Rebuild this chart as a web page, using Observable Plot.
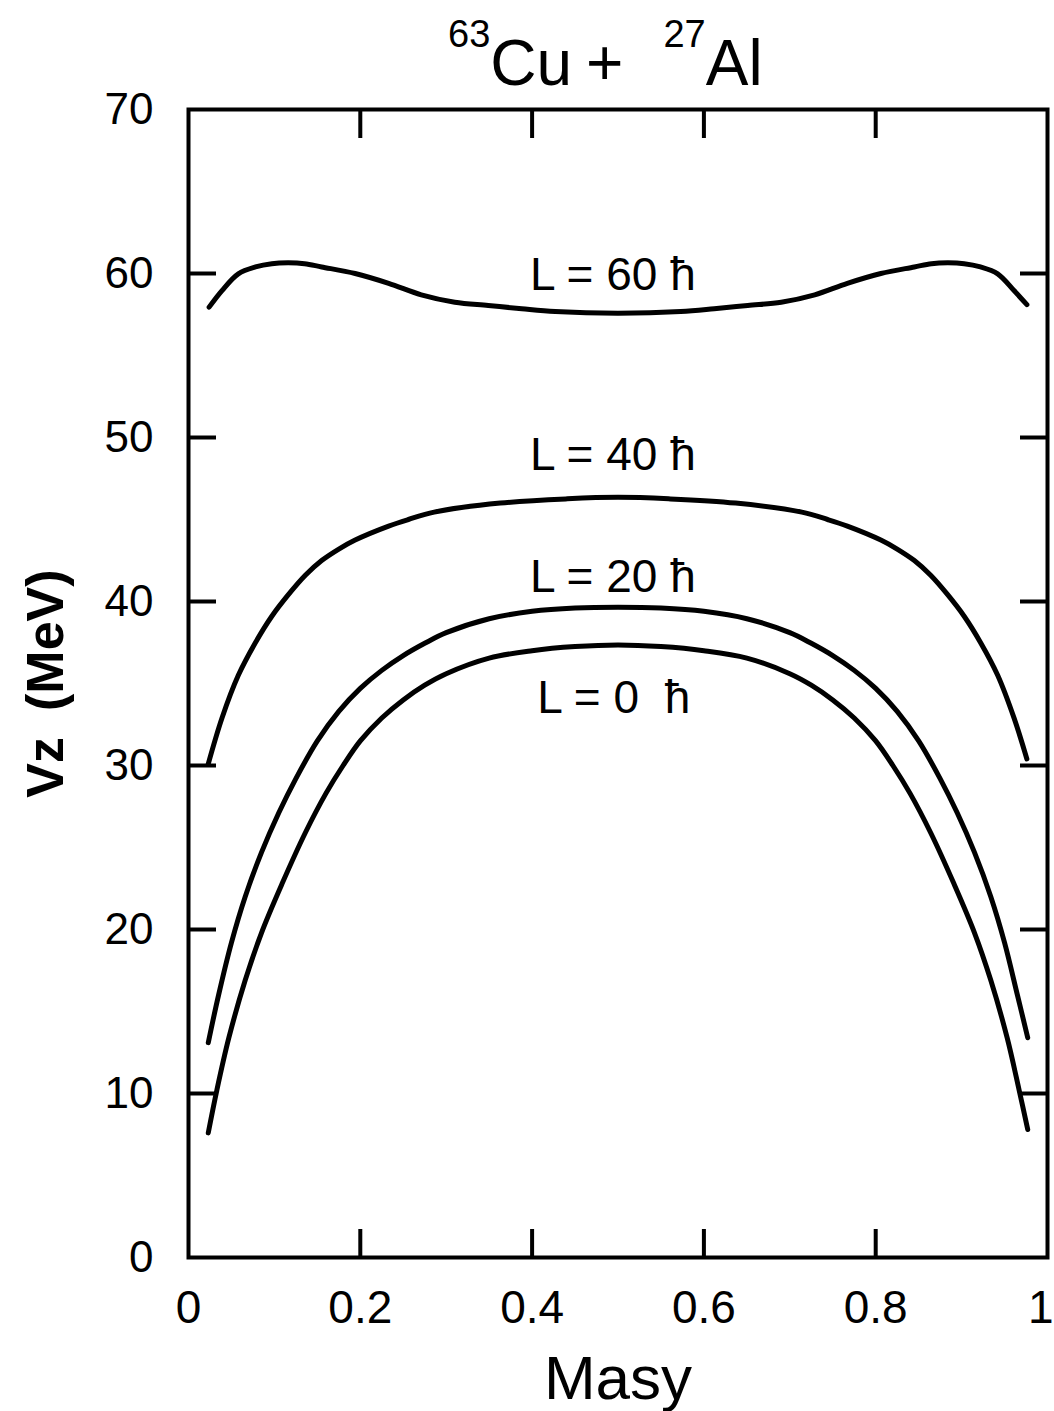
<!DOCTYPE html>
<html>
<head>
<meta charset="utf-8">
<script src="https://cdn.jsdelivr.net/npm/d3@7"></script>
<script src="https://cdn.jsdelivr.net/npm/@observablehq/plot@0.6"></script>
<style>
  body { margin: 0; background: #fff; }
  #title { position: relative; width: 1054px; height: 88px; font-family: "Liberation Sans", Arial, sans-serif; color: #000; }
  #title .t { position: absolute; left: 448px; top: 31px; font-size: 64px; line-height: 64px; white-space: nowrap; }
  #title .s { font-size: 38px; position: relative; top: -38px; }
  #title .p { margin-left: 14px; }
  #title .s2 { margin-left: 40px; }
</style>
</head>
<body>
<div id="title"><div class="t"><span class="s">63</span>Cu<span class="p">+</span><span class="s s2">27</span>Al</div></div>
<div id="chart"></div>
<script>
// Tick values
const xTickLabels = [0, 0.2, 0.4, 0.6, 0.8];
const xEdgeLabel = [1];
const xInnerTicks = [0.2, 0.4, 0.6, 0.8];
const yTickLabels = [0, 10, 20, 30, 40, 50, 60, 70];
const yInnerTicks = [10, 20, 30, 40, 50, 60];

// Curves: Masy vs Vz (MeV)
const masyL0 = [0.023, 0.033, 0.047, 0.066, 0.085, 0.109, 0.136, 0.16, 0.18, 0.2, 0.225, 0.25, 0.275, 0.3, 0.35, 0.4, 0.45, 0.5,
                0.55, 0.6, 0.65, 0.7, 0.725, 0.75, 0.775, 0.8, 0.82, 0.84, 0.864, 0.891, 0.915, 0.934, 0.953, 0.967, 0.977];
const vzL0   = [7.6, 10.2, 13.4, 16.9, 19.8, 22.8, 25.9, 28.3, 30.0, 31.5, 32.9, 34.0, 34.9, 35.6, 36.55, 37.0, 37.25, 37.35,
                37.25, 37.0, 36.55, 35.6, 34.9, 34.0, 32.9, 31.5, 30.0, 28.3, 25.9, 22.8, 19.8, 16.9, 13.4, 10.2, 7.8];

const masyL20 = [0.023, 0.035, 0.05, 0.066, 0.085, 0.105, 0.125, 0.15, 0.175, 0.2, 0.225, 0.25, 0.275, 0.3, 0.35, 0.4, 0.45, 0.5,
                 0.55, 0.6, 0.65, 0.7, 0.725, 0.75, 0.775, 0.8, 0.825, 0.85, 0.875, 0.895, 0.915, 0.934, 0.95, 0.965, 0.977];
const vzL20   = [13.1, 16.0, 19.2, 22.0, 24.7, 27.1, 29.2, 31.5, 33.3, 34.7, 35.8, 36.7, 37.45, 38.1, 38.95, 39.4, 39.6, 39.65,
                 39.6, 39.4, 38.95, 38.1, 37.45, 36.7, 35.8, 34.7, 33.3, 31.5, 29.2, 27.1, 24.7, 22.0, 19.2, 16.0, 13.4];

const masyL40 = [0.023, 0.039, 0.058, 0.078, 0.097, 0.116, 0.136, 0.155, 0.175, 0.194, 0.233, 0.256, 0.286, 0.363, 0.441, 0.5,
                 0.559, 0.637, 0.714, 0.744, 0.767, 0.806, 0.825, 0.845, 0.864, 0.884, 0.903, 0.922, 0.942, 0.961, 0.976];
const vzL40   = [30.1, 32.9, 35.5, 37.5, 39.1, 40.4, 41.6, 42.5, 43.2, 43.75, 44.6, 45.0, 45.45, 46.0, 46.26, 46.35,
                 46.26, 46.0, 45.45, 45.0, 44.6, 43.75, 43.2, 42.5, 41.6, 40.4, 39.1, 37.5, 35.5, 32.9, 30.4];

const masyL60 = [0.024, 0.039, 0.058, 0.078, 0.097, 0.116, 0.135, 0.155, 0.194, 0.233, 0.271, 0.31, 0.349, 0.388, 0.427, 0.5,
                 0.573, 0.612, 0.651, 0.69, 0.729, 0.767, 0.806, 0.845, 0.865, 0.884, 0.903, 0.922, 0.942, 0.961, 0.976];
const vzL60   = [57.95, 58.96, 59.98, 60.4, 60.6, 60.65, 60.6, 60.4, 60.0, 59.4, 58.7, 58.25, 58.05, 57.85, 57.68, 57.58,
                 57.68, 57.85, 58.05, 58.25, 58.7, 59.4, 60.0, 60.4, 60.6, 60.65, 60.6, 60.4, 59.98, 58.96, 58.1];

// Curve labels
const labelText = ["L = 60 ħ", "L = 40 ħ", "L = 20 ħ", "L = 0\u00a0\u00a0ħ"];
const labelX = [0.494, 0.494, 0.494, 0.495];
const labelY = [59.9, 48.9, 41.45, 34.1];

const series = [
  ["0", masyL0, vzL0],
  ["20", masyL20, vzL20],
  ["40", masyL40, vzL40],
  ["60", masyL60, vzL60]
];
const rows = series.flatMap(([L, xs, ys]) => xs.map((m, i) => ({L, masy: m, vz: ys[i]})));
const labels = labelText.map((t, i) => ({text: t, x: labelX[i], y: labelY[i]}));

const chart = Plot.plot({
  width: 1054,
  height: 1323,
  marginTop: 21,
  marginLeft: 188,
  marginRight: 7,
  marginBottom: 154,
  x: {domain: [0, 1]},
  y: {domain: [0, 70]},
  style: {fontFamily: "'Liberation Sans', Arial, sans-serif", background: "white", color: "black", overflow: "visible"},
  marks: [
    Plot.axisX({anchor: "bottom", ticks: xInnerTicks, tickSize: -28, strokeWidth: 4, text: null, label: null}),
    Plot.axisX({anchor: "top", ticks: xInnerTicks, tickSize: -28, strokeWidth: 4, text: null, label: null}),
    Plot.axisX({anchor: "bottom", ticks: xTickLabels, tickSize: 0, tickPadding: 33, fontSize: 46, tickFormat: d => String(d), label: null}),
    Plot.text(xEdgeLabel, {x: d => d, frameAnchor: "bottom", dy: 33, dx: 6, lineAnchor: "top", textAnchor: "end", text: d => String(d), fontSize: 46, fill: "black"}),
    Plot.axisY({anchor: "left", ticks: yInnerTicks, tickSize: -28, strokeWidth: 4, text: null, label: null}),
    Plot.axisY({anchor: "right", ticks: yInnerTicks, tickSize: -28, strokeWidth: 4, text: null, label: null}),
    Plot.axisY({anchor: "left", ticks: yTickLabels, tickSize: 0, tickPadding: 35, fontSize: 44, label: null}),
    Plot.frame({stroke: "black", strokeWidth: 4}),
    Plot.line(rows, {x: "masy", y: "vz", z: "L", curve: "catmull-rom", stroke: "black", strokeWidth: 5}),
    Plot.text(labels, {x: "x", y: "y", text: "text", fontSize: 46, fill: "black"}),
    Plot.text(["Masy"], {frameAnchor: "bottom", dy: 122, lineAnchor: "middle", textAnchor: "middle", fontSize: 62, fill: "black"}),
    Plot.text(["Vz\u2002(MeV)"], {frameAnchor: "left", dx: -142, rotate: -90, textAnchor: "middle", lineAnchor: "middle", fontSize: 52, fontWeight: "bold", fill: "black"})
  ]
});
document.getElementById("chart").appendChild(chart);
</script>
</body>
</html>
